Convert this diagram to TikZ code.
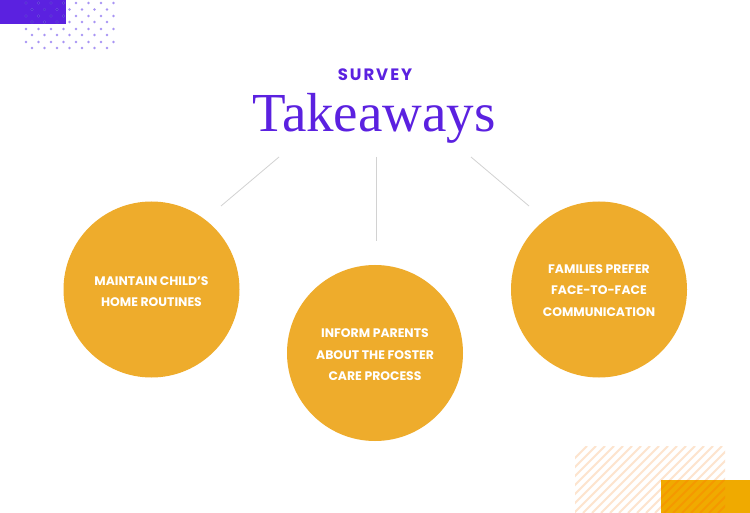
\documentclass[tikz,border=0pt]{standalone}
\usepackage{fontspec}
\setmainfont{Liberation Serif}
\newfontfamily\labelfont{Poppins}
\newfontfamily\headfont[LetterSpace=12]{Poppins}
\definecolor{brandpurple}{RGB}{91,33,224}
\definecolor{dotpurple}{RGB}{168,148,244}
\definecolor{dotdark}{RGB}{80,40,210}
\definecolor{circleorange}{RGB}{238,172,44}
\definecolor{blockorange}{RGB}{240,170,0}
\definecolor{hatchpeach}{RGB}{253,228,206}
\definecolor{linegray}{RGB}{210,210,210}
\tikzset{
  takeaway/.style={circle, fill=circleorange, minimum size=176pt, inner sep=0pt},
  takeawaytext/.style={text=white, font=\labelfont\bfseries\fontsize{12.4}{21.5}\selectfont, align=center},
  connector/.style={draw=linegray, line width=0.8pt},
}
\begin{document}
\begin{tikzpicture}[x=1pt,y=-1pt]
\useasboundingbox (0,0) rectangle (750,513);
\fill[white] (0,0) rectangle (750,513);
% top-left purple block and dots
\fill[brandpurple] (0,0) rectangle (66,24);
\foreach \y in {3,16,29,42}{
  \foreach \x in {26,38.5,51,63.5,76,88.5,101,113.5}{
    \fill[dotpurple] (\x,\y) circle[radius=1.3];
  }
}
\foreach \y in {9.5,22,35,48}{
  \foreach \x in {32,44.5,57,69.5,82,94.5,107}{
    \fill[dotpurple] (\x,\y) circle[radius=1.3];
  }
}
\begin{scope}
  \clip (0,0) rectangle (66,24);
  \foreach \y in {3,16}{
    \foreach \x in {26,38.5,51,63.5}{
      \fill[dotdark] (\x,\y) circle[radius=1.3];
    }
  }
  \foreach \y in {9.5,22}{
    \foreach \x in {32,44.5,57}{
      \fill[dotdark] (\x,\y) circle[radius=1.3];
    }
  }
\end{scope}
% bottom-right hatch and block
\begin{scope}
  \clip (575,446) rectangle (725,513);
  \foreach \i in {0,...,26}{
    \draw[hatchpeach, line width=1.8pt] (520+9*\i,513) -- (520+9*\i+67,446);
  }
\end{scope}
\fill[blockorange] (661,480) rectangle (750,513);
\begin{scope}
  \clip (661,480) rectangle (725,513);
  \foreach \i in {0,...,26}{
    \draw[orange!90!red, opacity=0.3, line width=1.8pt] (520+9*\i,513) -- (520+9*\i+67,446);
  }
\end{scope}
% titles
\node[text=brandpurple, font=\headfont\bfseries\fontsize{16.5}{16.5}\selectfont] (survey) at (375,74.5) {SURVEY};
\node[text=brandpurple, font=\fontsize{55}{55}\selectfont, anchor=base] (title) at (374,132) {Takeaways};
% circles
\node[takeaway] (c1) at (151.5,289.5) {};
\node[takeaway] (c2) at (375,353) {};
\node[takeaway] (c3) at (599,289.5) {};
\node[takeawaytext] (t1) at (c1) [yshift=-2pt] {MAINTAIN CHILD’S\\HOME ROUTINES};
\node[takeawaytext] (t2) at (c2) [yshift=-2pt] {INFORM PARENTS\\ABOUT THE FOSTER\\CARE PROCESS};
\node[takeawaytext] (t3) at (c3) [yshift=-1pt] {FAMILIES PREFER\\FACE-TO-FACE\\COMMUNICATION};
% connectors
\coordinate (l1a) at (279,157);
\coordinate (l1b) at (221,206);
\coordinate (l2a) at (376,157);
\coordinate (l2b) at (376,241);
\coordinate (l3a) at (471,157);
\coordinate (l3b) at (529,206);
\draw[connector] (l1a) -- (l1b);
\draw[connector] (l2a) -- (l2b);
\draw[connector] (l3a) -- (l3b);
\end{tikzpicture}
\end{document}
